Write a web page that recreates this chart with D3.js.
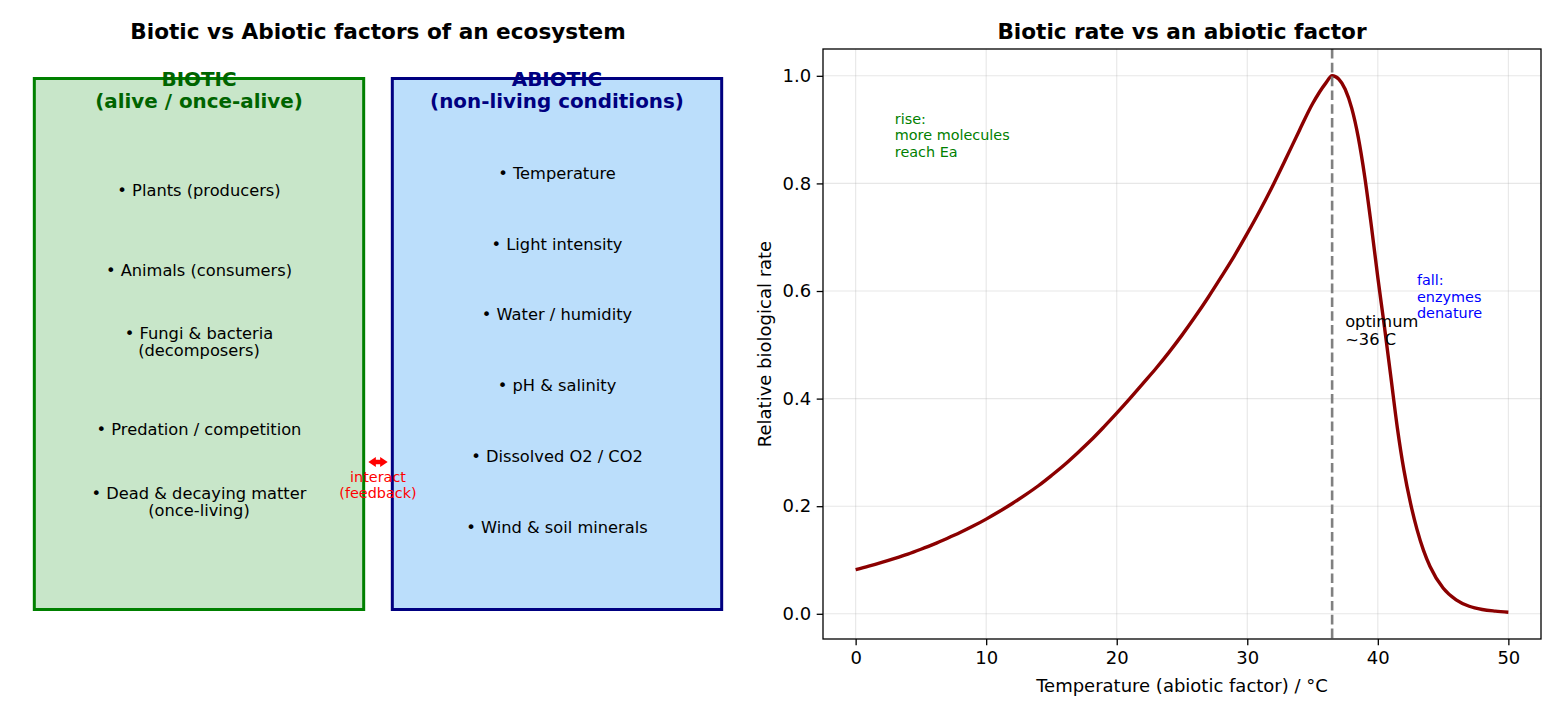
<!DOCTYPE html>
<html>
<head>
<meta charset="utf-8">
<script src="https://cdn.jsdelivr.net/npm/d3@7"></script>
<style>
  body { margin: 0; background: #fff; }
  text { font-family: "DejaVu Sans", sans-serif; }
</style>
</head>
<body>
<svg id="chart" width="1560" height="715"></svg>
<script>
// ---- data ----
var bioticHeader = ["BIOTIC", "(alive / once-alive)"];
var abioticHeader = ["ABIOTIC", "(non-living conditions)"];
var bioticItems = [
  "• Plants (producers)",
  "• Animals (consumers)",
  "• Fungi & bacteria\n(decomposers)",
  "• Predation / competition",
  "• Dead & decaying matter\n(once-living)"
];
var abioticItems = [
  "• Temperature",
  "• Light intensity",
  "• Water / humidity",
  "• pH & salinity",
  "• Dissolved O2 / CO2",
  "• Wind & soil minerals"
];

// temperature (°C) and relative rate
var temps = [0, 1, 2, 3, 4, 5, 6, 7, 8, 9, 10, 11, 12, 13, 14, 15, 16, 17, 18, 19,
  20, 21, 22, 23, 24, 25, 26, 27, 28, 29, 30, 31, 32, 33, 34, 35, 36, 36.5,
  37, 37.5, 38, 38.5, 39, 39.5, 40, 40.5, 41, 41.5, 42, 42.5, 43, 43.5, 44,
  45, 46, 47, 48, 49, 50];
var rates = [0.082, 0.0885, 0.0955, 0.103, 0.111, 0.120, 0.1295, 0.140, 0.151, 0.163,
  0.176, 0.190, 0.205, 0.221, 0.238, 0.257, 0.277, 0.299, 0.322, 0.347,
  0.373, 0.400, 0.428, 0.456, 0.486, 0.518, 0.552, 0.588, 0.626, 0.665,
  0.707, 0.751, 0.798, 0.848, 0.899, 0.948, 0.986, 1.000,
  0.994, 0.975, 0.940, 0.886, 0.812, 0.722, 0.625, 0.535, 0.440, 0.345,
  0.267, 0.206, 0.157, 0.118, 0.088,
  0.048, 0.026, 0.014, 0.008, 0.005, 0.003];
var optimumT = 36.5;
var xTicks = [0, 10, 20, 30, 40, 50];
var yTicks = [0, 0.2, 0.4, 0.6, 0.8, 1.0];

var svg = d3.select("#chart");
svg.append("rect").attr("width", 1560).attr("height", 715).attr("fill", "#fff");

// ---------------- left panel ----------------
var px = d3.scaleLinear().domain([0, 1]).range([20, 736]);
var py = d3.scaleLinear().domain([0, 1]).range([639, 49]);

svg.append("text")
  .attr("x", px(0.5)).attr("y", 39)
  .attr("text-anchor", "middle")
  .attr("font-size", "21.6px").attr("font-weight", "bold")
  .text("Biotic vs Abiotic factors of an ecosystem");

var boxes = [
  { x0: 0.02, x1: 0.48, fill: "#c8e6c9", stroke: "green", head: "darkgreen",
    header: bioticHeader, items: bioticItems,
    ys: [0.761, 0.625, 0.504, 0.356, 0.233] },
  { x0: 0.52, x1: 0.98, fill: "#bbdefb", stroke: "navy", head: "navy",
    header: abioticHeader, items: abioticItems,
    ys: abioticItems.map(function(d, i) { return 0.79 - 0.12 * i; }) }
];

function multiline(g, lines, x, yc, size, lh) {
  var t = g.append("text")
    .attr("x", x)
    .attr("text-anchor", "middle")
    .attr("font-size", size + "px");
  var y0 = yc - (lines.length - 1) * lh / 2 + size * 0.36;
  lines.forEach(function(l, i) {
    t.append("tspan").attr("x", x).attr("y", y0 + i * lh).text(l);
  });
  return t;
}

boxes.forEach(function(b) {
  var g = svg.append("g");
  g.append("rect")
    .attr("x", px(b.x0)).attr("y", py(0.95))
    .attr("width", px(b.x1) - px(b.x0))
    .attr("height", py(0.05) - py(0.95))
    .attr("fill", b.fill)
    .attr("stroke", b.stroke)
    .attr("stroke-width", 3);
  var cx = px((b.x0 + b.x1) / 2);
  b.items.forEach(function(item, i) {
    multiline(g, item.split("\n"), cx, py(b.ys[i]), 16.25, 17).attr("fill", "#000");
  });
  multiline(g, b.header, cx, py(0.93), 19.9, 22)
    .attr("font-weight", "bold")
    .attr("fill", b.head);
});

// interaction arrow between boxes
var ay = py(0.30), ax0 = px(0.4865), ax1 = px(0.5135), hl = 7.5, hw = 5, bw = 2.2;
svg.append("path")
  .attr("d", "M" + ax0 + "," + ay +
    "L" + (ax0 + hl) + "," + (ay - hw) + "L" + (ax0 + hl) + "," + (ay - bw) +
    "L" + (ax1 - hl) + "," + (ay - bw) + "L" + (ax1 - hl) + "," + (ay - hw) +
    "L" + ax1 + "," + ay +
    "L" + (ax1 - hl) + "," + (ay + hw) + "L" + (ax1 - hl) + "," + (ay + bw) +
    "L" + (ax0 + hl) + "," + (ay + bw) + "L" + (ax0 + hl) + "," + (ay + hw) + "Z")
  .attr("fill", "red");
multiline(svg, ["interact", "(feedback)"], px(0.5), py(0.3) + 23, 14.4, 16).attr("fill", "red");

// ---------------- right panel ----------------
var pLeft = 823, pRight = 1541, pTop = 49, pBottom = 639;
var ext = d3.extent(rates), pad = (ext[1] - ext[0]) * 0.05;
var x = d3.scaleLinear().domain([-2.5, 52.5]).range([pLeft, pRight]);
var y = d3.scaleLinear().domain([ext[0] - pad, ext[1] + pad]).range([pBottom, pTop]);

var plot = svg.append("g");

// grid
plot.append("g").selectAll("line").data(xTicks).enter().append("line")
  .attr("x1", function(d) { return x(d); }).attr("x2", function(d) { return x(d); })
  .attr("y1", pTop).attr("y2", pBottom)
  .attr("stroke", "#b0b0b0").attr("stroke-opacity", 0.3).attr("stroke-width", 1.1);
plot.append("g").selectAll("line").data(yTicks).enter().append("line")
  .attr("y1", function(d) { return y(d); }).attr("y2", function(d) { return y(d); })
  .attr("x1", pLeft).attr("x2", pRight)
  .attr("stroke", "#b0b0b0").attr("stroke-opacity", 0.3).attr("stroke-width", 1.1);

// curve
var line = d3.line()
  .x(function(d, i) { return x(temps[i]); })
  .y(function(d) { return y(d); })
  .curve(d3.curveMonotoneX);
plot.append("path")
  .attr("d", line(rates))
  .attr("fill", "none")
  .attr("stroke", "darkred")
  .attr("stroke-width", 3.4)
  .attr("stroke-linejoin", "round");

// optimum line
plot.append("line")
  .attr("x1", x(optimumT)).attr("x2", x(optimumT))
  .attr("y1", pTop).attr("y2", pBottom)
  .attr("stroke", "gray").attr("stroke-width", 2.6)
  .attr("stroke-dasharray", "9.6,4.2");

// annotations
function note(lines, tx, ty, color, size, lh) {
  var t = plot.append("text").attr("font-size", size + "px").attr("fill", color);
  lines.forEach(function(l, i) {
    t.append("tspan").attr("x", x(tx)).attr("y", y(ty) - (lines.length - 1 - i) * lh).text(l);
  });
}
note(["rise:", "more molecules", "reach Ea"], 3, 0.85, "green", 14.4, 16.3);
note(["fall:", "enzymes", "denature"], 43, 0.55, "blue", 14.4, 16.3);
note(["optimum", "~36 C"], 37.5, 0.5, "black", 16.25, 17.5);

// axes
var xAxis = d3.axisBottom(x).tickValues(xTicks).tickSize(6.3).tickPadding(5.5)
  .tickFormat(d3.format("d"));
var yAxis = d3.axisLeft(y).tickValues(yTicks).tickSize(6.3).tickPadding(5.5)
  .tickFormat(d3.format(".1f"));
var gx = plot.append("g").attr("transform", "translate(0," + pBottom + ")").call(xAxis);
var gy = plot.append("g").attr("transform", "translate(" + pLeft + ",0)").call(yAxis);
[gx, gy].forEach(function(g) {
  g.select(".domain").remove();
  g.selectAll(".tick line").attr("stroke", "#000").attr("stroke-width", 1.3);
  g.selectAll(".tick text").attr("font-size", "18px").attr("fill", "#000")
    .attr("font-family", "DejaVu Sans, sans-serif");
});

plot.append("rect")
  .attr("x", pLeft).attr("y", pTop)
  .attr("width", pRight - pLeft).attr("height", pBottom - pTop)
  .attr("fill", "none").attr("stroke", "#000").attr("stroke-width", 1.3);

plot.append("text")
  .attr("x", (pLeft + pRight) / 2).attr("y", 39)
  .attr("text-anchor", "middle")
  .attr("font-size", "21.6px").attr("font-weight", "bold")
  .text("Biotic rate vs an abiotic factor");

plot.append("text")
  .attr("x", (pLeft + pRight) / 2).attr("y", 692)
  .attr("text-anchor", "middle").attr("font-size", "18px")
  .text("Temperature (abiotic factor) / °C");

plot.append("text")
  .attr("transform", "translate(771," + ((pTop + pBottom) / 2) + ") rotate(-90)")
  .attr("text-anchor", "middle").attr("font-size", "18px")
  .text("Relative biological rate");
</script>
</body>
</html>
